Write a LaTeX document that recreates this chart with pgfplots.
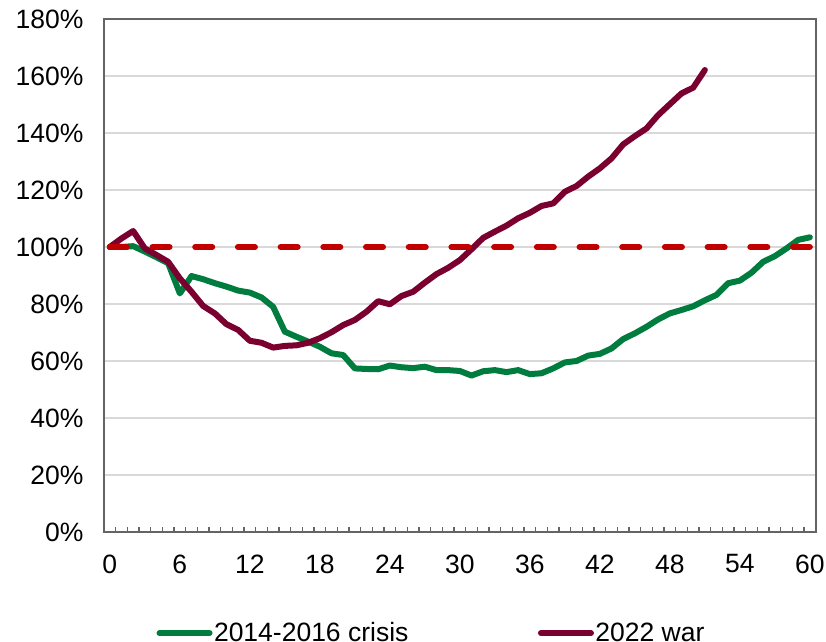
\documentclass[border=0pt]{standalone}
\usepackage{fontspec}
\setmainfont{Liberation Sans}
\usepackage{pgfplots}
\pgfplotsset{compat=1.18}
\definecolor{cgreen}{RGB}{0,125,62}
\definecolor{cmaroon}{RGB}{122,0,48}
\definecolor{cred}{RGB}{192,0,0}
\definecolor{cgrid}{RGB}{217,217,217}
\definecolor{caxis}{RGB}{100,100,100}
\begin{document}
\begin{tikzpicture}
\path[use as bounding box] (-104bp,-110bp) rectangle (722bp,532bp);
\begin{axis}[
  at={(0,0)}, anchor=south west,
  scale only axis, width=711.7bp, height=513bp,
  xmin=-0.5, xmax=60.5, ymin=0, ymax=180,
  xtick={0,6,...,60},
  minor xtick={-0.5,0.5,...,60.5},
  ytick={0,20,...,180},
  yticklabels={0\%,20\%,40\%,60\%,80\%,100\%,120\%,140\%,160\%,180\%},
  xticklabels={0,6,12,18,24,30,36,42,48,54,60},
  xtick pos=bottom, ytick pos=left,
  tick align=inside,
  major tick length=0pt, minor tick length=5bp,
  minor tick style={draw=caxis, line width=1.3bp},
  axis line style={draw=caxis, line width=1.8bp},
  ymajorgrids, grid style={draw=cgrid, line width=1.3bp},
  tick label style={font=\fontsize{26.5bp}{30bp}\selectfont},
  xticklabel style={yshift=-19bp},
  yticklabel style={xshift=-17bp},
  legend columns=2,
  legend style={draw=none, fill=none, inner sep=0pt, outer sep=0pt,
    at={(axis description cs:0.0738,-0.197)}, anchor=west,
    font=\fontsize{26.5bp}{30bp}\selectfont,
    nodes={inner sep=1.5bp},
    /tikz/every even column/.append style={column sep=128bp}},
  legend image code/.code={\draw[#1, line cap=round] (0bp,0bp) -- (50bp,0bp);},
  every axis plot/.append style={line width=6bp, line join=round, line cap=round},
]
\addplot[cgreen] coordinates {
(0,100) (1,100) (2,100.3) (3,98.4) (4,96.4) (5,94.3) (6,83.7) (7,89.8) (8,88.7) (9,87.3)
(10,86.1) (11,84.7) (12,84.0) (13,82.3) (14,79) (15,70.3) (16,68.5) (17,66.8) (18,65) (19,62.7)
(20,62.1) (21,57.4) (22,57.2) (23,57.1) (24,58.4) (25,57.8) (26,57.5) (27,58.0) (28,56.8) (29,56.8)
(30,56.5) (31,54.9) (32,56.4) (33,56.8) (34,56.1) (35,56.8) (36,55.4) (37,55.7) (38,57.4) (39,59.5)
(40,60.0) (41,61.9) (42,62.5) (43,64.4) (44,67.7) (45,69.7) (46,72.0) (47,74.6) (48,76.7) (49,77.9)
(50,79.2) (51,81.3) (52,83.2) (53,87.3) (54,88.2) (55,91) (56,94.8) (57,96.8) (58,99.5) (59,102.5)
(60,103.4)};
\addlegendentry{2014-2016 crisis}
\addplot[cmaroon] coordinates {
(0,100) (1,103) (2,105.6) (3,99.5) (4,97.2) (5,94.8) (6,89) (7,84.3) (8,79.3) (9,76.7)
(10,72.9) (11,70.9) (12,67.1) (13,66.4) (14,64.7) (15,65.3) (16,65.5) (17,66.4) (18,68) (19,70.1)
(20,72.6) (21,74.4) (22,77.3) (23,81) (24,79.9) (25,82.8) (26,84.3) (27,87.5) (28,90.5) (29,92.7)
(30,95.4) (31,99.2) (32,103.2) (33,105.4) (34,107.5) (35,110.1) (36,112) (37,114.4) (38,115.3) (39,119.4)
(40,121.4) (41,124.7) (42,127.6) (43,131.1) (44,136) (45,138.9) (46,141.6) (47,146.3) (48,150.1) (49,153.9)
(50,155.9) (51,162.1)};
\addlegendentry{2022 war}
\addplot[cred, dash pattern=on 17bp off 25.7bp, forget plot] coordinates {(0,100) (60,100)};
\end{axis}
\end{tikzpicture}
\end{document}
